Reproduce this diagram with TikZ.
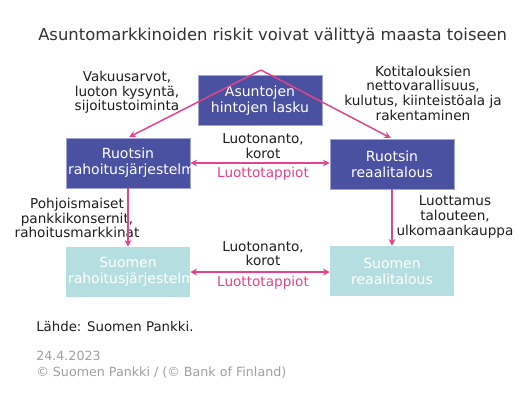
\documentclass[tikz,border=0pt]{standalone}
\usepackage{fontspec}
\setmainfont{DejaVu Sans}
\usetikzlibrary{arrows.meta}
\definecolor{boxblue}{RGB}{74,81,160}
\definecolor{boxedge}{RGB}{160,164,214}
\definecolor{boxteal}{RGB}{181,222,224}
\definecolor{pinkline}{RGB}{230,65,140}
\definecolor{txtdark}{RGB}{30,30,30}
\definecolor{titlegray}{RGB}{51,51,51}
\definecolor{footgray}{RGB}{160,160,160}
\tikzset{
  boxbase/.style={text width=90pt,minimum height=37.5pt,inner xsep=1.5pt,inner ysep=0pt,align=center,text=white,font=\fontsize{10.5}{12}\selectfont},
  darkbox/.style={boxbase,fill=boxblue,draw=boxedge,line width=0.6pt},
  lightbox/.style={boxbase,fill=boxteal},
  lbl/.style={align=center,text=txtdark,inner sep=0pt,font=\fontsize{10.2}{11}\selectfont},
  pinklbl/.style={lbl,text=pinkline},
  conn/.style={draw=pinkline,line width=1.1pt,-{Stealth[length=5pt,width=5pt]}},
  dconn/.style={draw=pinkline,line width=1.1pt,{Stealth[length=5pt,width=5pt]}-{Stealth[length=5pt,width=5pt]}}
}
\begin{document}
\begin{tikzpicture}[x=0.75pt,y=-0.75pt]
\useasboundingbox[fill=white] (0,0) rectangle (518,404);
\node[anchor=west,text=titlegray,inner sep=0pt,font=\fontsize{12.3}{14}\selectfont] (title) at (38,36) {Asuntomarkkinoiden riskit voivat välittyä maasta toiseen};
\node[darkbox] (top) at (260,100.5) {Asuntojen\\hintojen lasku};
\node[darkbox] (ra) at (128,163) {Ruotsin\\rahoitusjärjestelm};
\node[darkbox] (rr) at (392,164) {Ruotsin\\reaalitalous};
\node[lightbox] (sr) at (128,272) {Suomen\\rahoitusjärjestelm};
\node[lightbox] (sf) at (392,271) {Suomen\\reaalitalous};
\coordinate (apex) at (261,70);
\node[lbl] (l1) at (127,92.5) {Vakuusarvot,\\luoton kysyntä,\\sijoitustoiminta};
\node[lbl] (l2) at (423,93) {Kotitalouksien\\nettovarallisuus,\\kulutus, kiinteistöala ja\\rakentaminen};
\node[lbl] (l3) at (263,146) {Luotonanto,\\korot};
\node[pinklbl] (l4) at (263,174) {Luottotappiot};
\node[lbl] (l5) at (77,218) {Pohjoismaiset\\pankkikonsernit,\\rahoitusmarkkinat};
\node[lbl] (l6) at (455,217) {Luottamus\\talouteen,\\ulkomaankauppa};
\node[lbl] (l7) at (263,253.5) {Luotonanto,\\korot};
\node[pinklbl] (l8) at (263,283) {Luottotappiot};
\draw[conn,shorten >=1pt] (apex) -- (ra.north);
\draw[conn,shorten >=1pt] (apex) -- (rr.north);
\draw[dconn] (ra.east) -- (ra.east -| rr.west);
\draw[dconn] (sr.east) -- (sr.east -| sf.west);
\draw[conn] (ra.south) -- (sr.north);
\draw[conn] (rr.south) -- (sf.north);
\node[anchor=west,text=txtdark,inner sep=0pt,font=\fontsize{10}{11}\selectfont] (src) at (36,327) {Lähde: Suomen Pankki.};
\node[anchor=north west,text=footgray,inner sep=0pt,align=left,font=\fontsize{9.5}{12}\selectfont] (foot) at (36,351) {24.4.2023\\© Suomen Pankki / (© Bank of Finland)};
\end{tikzpicture}
\end{document}
